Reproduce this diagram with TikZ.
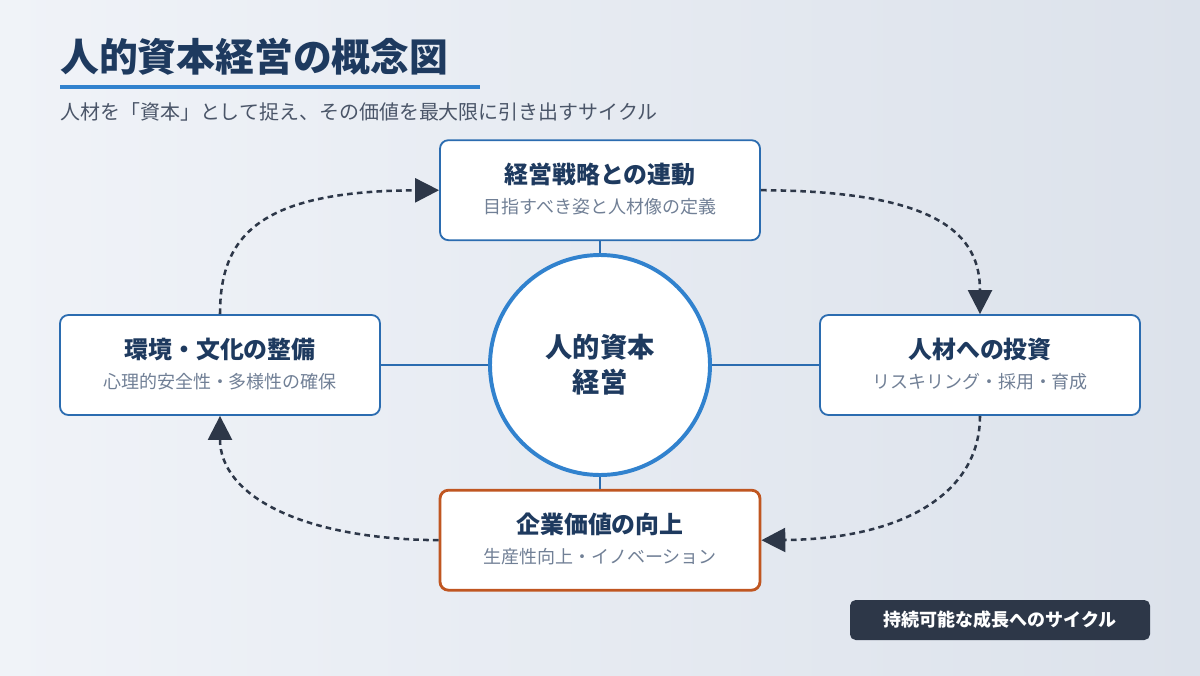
\documentclass[tikz,border=0pt]{standalone}
\usepackage{fontspec}
\setmainfont{Noto Sans CJK JP}
\usepackage{xcolor}
\usetikzlibrary{arrows.meta}
\usetikzlibrary{positioning}
\definecolor{navy}{HTML}{1E3A5F}
\definecolor{ink}{HTML}{2D3748}
\definecolor{subgray}{HTML}{4A5568}
\definecolor{mutegray}{HTML}{718096}
\definecolor{accent}{HTML}{3182CE}
\definecolor{boxblue}{HTML}{2B6CB0}
\definecolor{boxorange}{HTML}{C05621}
\definecolor{bgA}{HTML}{F0F3F8}
\definecolor{bgB}{HTML}{DCE2EB}
\tikzset{
    stage/.style = {rectangle, rounded corners=6pt, draw=boxblue, line width=1.3pt, fill=white, minimum width=8cm, minimum height=2.5cm},
    goal/.style = {stage, draw=boxorange, line width=2pt},
    stitle/.style = {font=\fontsize{17}{20}\selectfont\bfseries, text=navy, inner sep=0pt},
    ssub/.style = {font=\fontsize{12.8}{15}\selectfont, text=mutegray, inner sep=0pt},
    link/.style = {draw=boxblue, line width=0.8pt},
    cycle/.style = {draw=ink, line width=1.8pt, dash pattern=on 4pt off 3pt, -{Triangle[length=17pt,width=17pt]}}
}
\begin{document}
\begin{tikzpicture}
    \useasboundingbox (0,0) rectangle (30,16.875);
    \shade[left color=bgA, right color=bgB] (0,0) rectangle (30,16.875);
    % heading
    \node (title) [anchor=west, inner sep=0pt, font=\fontsize{27.6}{32}\selectfont\bfseries, text=navy] at (1.5,15.45) {人的資本経営の概念図};
    \coordinate (ulA) at (1.5,14.7);
    \coordinate (ulB) at (12,14.7);
    \draw[accent, line width=2.2pt] (ulA) -- (ulB);
    \node (subtitle) [anchor=west, inner sep=0pt, font=\fontsize{14.2}{17}\selectfont, text=subgray] at (1.5,14.07) {人材を「資本」として捉え、その価値を最大限に引き出すサイクル};
    % centre
    \node (core) [circle, draw=accent, line width=2.8pt, fill=white, minimum size=5.5cm, align=center, font=\fontsize{19.4}{25}\selectfont\bfseries, text=navy] at (15,7.75) {人的資本\\経営};
    % stages
    \node (strat) [stage] at (15,12.12) {};
    \node (invest) [stage] at (24.5,7.75) {};
    \node (value) [goal] at (15,3.37) {};
    \node (culture) [stage] at (5.5,7.75) {};
    \node (strat-t) [stitle] at (15,12.52) {経営戦略との連動};
    \node (strat-s) [ssub, below=0.3cm of strat-t] {目指すべき姿と人材像の定義};
    \node (invest-t) [stitle] at (24.5,8.15) {人材への投資};
    \node (invest-s) [ssub, below=0.3cm of invest-t] {リスキリング・採用・育成};
    \node (value-t) [stitle] at (15,3.77) {企業価値の向上};
    \node (value-s) [ssub, below=0.3cm of value-t] {生産性向上・イノベーション};
    \node (culture-t) [stitle] at (5.5,8.15) {環境・文化の整備};
    \node (culture-s) [ssub, below=0.3cm of culture-t] {心理的安全性・多様性の確保};
    % spokes
    \draw[link] (core) -- (strat);
    \draw[link] (core) -- (invest);
    \draw[link] (core) -- (value);
    \draw[link] (core) -- (culture);
    % cycle
    \draw[cycle] (strat.east) .. controls (23.5,12.1) and (24.5,11) .. (invest.north);
    \draw[cycle] (invest.south) .. controls (24.5,4.5) and (22.5,3.4) .. (value.east);
    \draw[cycle] (value.west) .. controls (7.5,3.4) and (5.5,4.5) .. (culture.south);
    \draw[cycle] (culture.north) .. controls (5.5,11) and (6.5,12.1) .. (strat.west);
    % badge
    \node (badge) [rectangle, rounded corners=4pt, fill=ink, text=white, minimum width=7.5cm, minimum height=1cm, font=\fontsize{12.8}{15}\selectfont\bfseries] at (25,1.375) {持続可能な成長へのサイクル};
\end{tikzpicture}
\end{document}
